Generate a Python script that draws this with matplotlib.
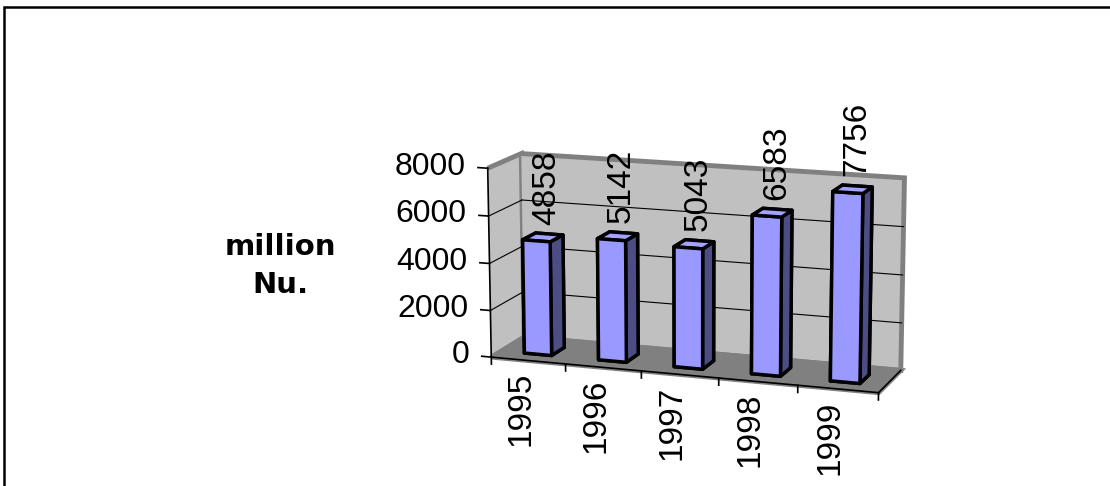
import matplotlib
matplotlib.use('Agg')
import matplotlib.pyplot as plt
import numpy as np
from matplotlib.patches import Rectangle
from mpl_toolkits.mplot3d import proj3d

years = ['1995', '1996', '1997', '1998', '1999']
values = [4858, 5142, 5043, 6583, 7756]
z_ticks = [0, 2000, 4000, 6000, 8000]
axis_title = 'million\nNu.'

plt.rcParams['font.family'] = ['Liberation Sans', 'DejaVu Sans']

fig = plt.figure(figsize=(11.1, 4.86), dpi=100)
ax = fig.add_axes([0.3446, -0.0417, 0.55, 0.95], projection='3d', proj_type='persp',
                  focal_length=1.0, computed_zorder=False)
ax.view_init(elev=13, azim=-71)
ax.set_box_aspect((387, 82, 186), zoom=0.967)
n = len(years)
zmax = z_ticks[-1]
ax.set_xlim(0, n)
ax.set_ylim(0, 1)
ax.set_zlim(0, zmax)
ax.patch.set_alpha(0)

# walls and floor
for axis, col in ((ax.xaxis, '#C0C0C0'), (ax.yaxis, '#C0C0C0'), (ax.zaxis, '#808080')):
    axis.set_pane_color(col)
    axis.pane.set_edgecolor('#808080')
    axis.pane.set_linewidth(3.5)
    axis.line.set_color((0, 0, 0, 0))
ax.set_xticks([])
ax.set_yticks([])
ax.set_zticks([])
ax.grid(False)

# gridlines on back and side walls
for v in z_ticks[1:-1]:
    ax.plot([0, n], [1, 1], [v, v], color='black', lw=0.8, zorder=1)
    ax.plot([0, 0], [0, 1], [v, v], color='black', lw=0.8, zorder=1)

# columns
bw, bd = 0.37, 0.4
xs = np.arange(n) + 0.5 - bw / 2
ys = np.full(n, 0.5 - bd / 2)
front, top, side = '#9999FF', '#A3A3FF', '#4D4D85'
face_cols = []
for _ in range(n):
    face_cols += [front, top, front, front, side, side]
ax.bar3d(xs, ys, np.zeros(n), bw, bd, values, color=face_cols,
         edgecolor='black', linewidth=2.5, shade=False, zorder=2)

# value axis
ax.plot([0, 0], [0, 0], [0, zmax], color='black', lw=1.2, zorder=3)
for v in z_ticks:
    ax.plot([-0.13, 0], [0, 0], [v, v], color='black', lw=1.2, zorder=3)

# category axis
ax.plot([0, n], [0, 0], [0, 0], color='black', lw=1.2, zorder=3)
ax.plot([n, n], [0, 1], [0, 0], color='black', lw=1.2, zorder=3)
for i in range(n + 1):
    ax.plot([i, i], [0, 0], [0, -300], color='black', lw=1.2, zorder=3)

# labels are placed at projected positions so they stay upright
fig.canvas.draw()
M = ax.get_proj()


def place(x, y, z, s, **kw):
    px, py, _ = proj3d.proj_transform(x, y, z, M)
    ax.text2D(px, py, s, transform=ax.transData, zorder=4, **kw)


for v in z_ticks:
    place(-0.3, 0, v, f'{v}', ha='right', va='center', fontsize=23)
for i, yr in enumerate(years):
    place(i + 0.4, 0, -500, yr, rotation=90, ha='center', va='top', fontsize=24)
for i, v in enumerate(values):
    place(i + 0.55, 0.5, v + 550, str(v), rotation=90, ha='center', va='bottom',
          fontsize=24)

fig.text(0.253, 0.453, axis_title, ha='center', va='center', fontsize=21,
         fontweight='bold', linespacing=1.45, family='DejaVu Sans')

# chart frame: top and left edges only reach into the picture
fig.add_artist(Rectangle((0.0032, -0.2), 1.2, 1.1856, transform=fig.transFigure,
                         fill=False, edgecolor='black', lw=1.8))

fig.savefig('out.png', dpi=100)
